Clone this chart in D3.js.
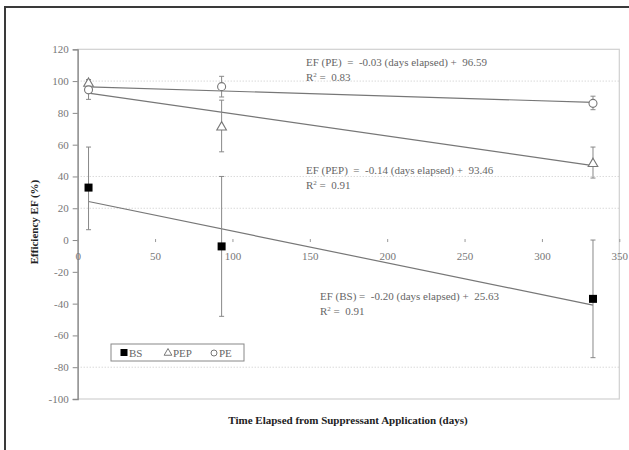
<!DOCTYPE html>
<html><head><meta charset="utf-8">
<script src="https://cdn.jsdelivr.net/npm/d3@7"></script>
<style>
body{margin:0;background:#fff;}
svg{display:block;}
svg text{font-family:"Liberation Serif","DejaVu Serif","Times New Roman",serif !important;}
</style></head>
<body>
<svg id="c" width="629" height="450"></svg>
<script>
// ---- data ----
const days = [7, 93, 333];
const seriesNames = ["BS", "PEP", "PE"];
const bsValues = [33, -4, -37];
const bsLow = [6.5, -48, -74];
const bsHigh = [58.5, 40, 0];
const pepValues = [98.5, 71, 48];
const pepLow = [96, 55.5, 39];
const pepHigh = [101, 88, 58.5];
const peValues = [94.5, 96.5, 86];
const peLow = [88.5, 90, 82];
const peHigh = [100, 103, 90.5];
const slopes = [-0.20, -0.14, -0.03];
const intercepts = [25.63, 93.46, 96.59];
const r2 = [0.91, 0.91, 0.83];
const xTicks = [0, 50, 100, 150, 200, 250, 300, 350];
const yTicks = [120, 100, 80, 60, 40, 20, 0, -20, -40, -60, -80, -100];
const gridValues = [100, 40, 20, -80];

const FONT = "'Liberation Serif','DejaVu Serif',serif";
const svg = d3.select("#c").attr("font-family", FONT);
const x = d3.scaleLinear().domain([0, 350]).range([77.7, 619.3]);
const y = d3.scaleLinear().domain([-100, 120]).range([399, 49.3]);

// outer frame
svg.append("path").attr("d", "M5,455 V7 H640").attr("fill", "none").attr("stroke", "#3a3a3a").attr("stroke-width", 2);

// plot area border
svg.append("rect").attr("x", x(0)).attr("y", y(120)).attr("width", x(350) - x(0)).attr("height", y(-100) - y(120))
  .attr("fill", "none").attr("stroke", "#d0d0d0").attr("stroke-width", 1.2);

// gridlines
svg.selectAll(".grid").data(gridValues).join("line")
  .attr("x1", x(0)).attr("x2", x(350)).attr("y1", d => y(d)).attr("y2", d => y(d))
  .attr("stroke", "#c8c8c8").attr("stroke-dasharray", "1,2").attr("stroke-width", 1);

// y axis
const yAxis = d3.axisLeft(y).tickValues(yTicks).tickSize(5).tickPadding(4).tickFormat(d => String(d));
const yg = svg.append("g").attr("transform", `translate(${x(0)},0)`).call(yAxis).attr("font-family", FONT);
yg.select(".domain").attr("stroke", "#8a8a8a").attr("stroke-width", 1.3);
yg.selectAll(".tick line").attr("stroke", "#8a8a8a");
yg.selectAll(".tick text").attr("fill", "#777").attr("font-size", 11);

// x axis (crosses at 0)
const xAxis = d3.axisBottom(x).tickValues(xTicks).tickSize(3).tickPadding(10).tickFormat(d => String(d));
const xg = svg.append("g").attr("transform", `translate(0,${y(0) - 1})`).call(xAxis).attr("font-family", FONT);
xg.select(".domain").remove();
xg.selectAll(".tick line").attr("stroke", "#999");
xg.selectAll(".tick text").attr("fill", "#777").attr("font-size", 11);

// trend lines
[0, 1, 2].forEach(i => {
  const x0 = days[0], x1 = days[days.length - 1];
  svg.append("line")
    .attr("x1", x(x0)).attr("y1", y(intercepts[i] + slopes[i] * x0))
    .attr("x2", x(x1)).attr("y2", y(intercepts[i] + slopes[i] * x1))
    .attr("stroke", "#777").attr("stroke-width", 1.2);
});

// error bars
const series = [
  {name: "BS", v: bsValues, lo: bsLow, hi: bsHigh},
  {name: "PEP", v: pepValues, lo: pepLow, hi: pepHigh},
  {name: "PE", v: peValues, lo: peLow, hi: peHigh}
];
series.forEach(s => {
  const g = svg.append("g");
  days.forEach((d, i) => {
    g.append("line").attr("x1", x(d)).attr("x2", x(d)).attr("y1", y(s.lo[i])).attr("y2", y(s.hi[i]))
      .attr("stroke", "#888").attr("stroke-width", 1);
    [s.lo[i], s.hi[i]].forEach(e => {
      g.append("line").attr("x1", x(d) - 2.5).attr("x2", x(d) + 2.5).attr("y1", y(e)).attr("y2", y(e))
        .attr("stroke", "#888").attr("stroke-width", 1);
    });
  });
});

// markers
const tri = d3.symbol().type(d3.symbolTriangle).size(40);
function drawMarker(g, name, cx, cy) {
  if (name === "BS") {
    g.append("rect").attr("x", cx - 4).attr("y", cy - 4).attr("width", 8).attr("height", 8).attr("fill", "#000");
  } else if (name === "PEP") {
    g.append("path").attr("d", tri()).attr("transform", `translate(${cx},${cy})`)
      .attr("fill", "#fff").attr("stroke", "#777").attr("stroke-width", 1.1);
  } else {
    g.append("circle").attr("cx", cx).attr("cy", cy).attr("r", 4)
      .attr("fill", "#fff").attr("stroke", "#777").attr("stroke-width", 1.1);
  }
}
series.forEach(s => {
  const g = svg.append("g");
  days.forEach((d, i) => drawMarker(g, s.name, x(d), y(s.v[i])));
});

// equation annotations
function fmt(v) { return v.toFixed(2); }
const annPos = [[320, 300], [306, 174], [306, 66]];
const labelsEq = ["EF (BS) =  ", "EF (PEP)  =  ", "EF (PE)  =  "];
[0, 1, 2].forEach(i => {
  const [ax, ay] = annPos[i];
  svg.append("text").attr("x", ax).attr("y", ay).attr("fill", "#666").attr("font-size", 11)
    .style("white-space", "pre")
    .text(labelsEq[i] + fmt(slopes[i]) + " (days elapsed) +  " + fmt(intercepts[i]));
  const t = svg.append("text").attr("x", ax).attr("y", ay + 15).attr("fill", "#666").attr("font-size", 11)
    .style("white-space", "pre");
  t.append("tspan").text("R");
  t.append("tspan").attr("dy", -4).attr("font-size", 7).text("2");
  t.append("tspan").attr("dy", 4).text(" =  " + fmt(r2[i]));
});

// axis titles
svg.append("text").attr("transform", `translate(38,222) rotate(-90)`).attr("text-anchor", "middle")
  .attr("font-size", 11).attr("font-weight", "bold").attr("fill", "#222").text("Efficiency EF (%)");
svg.append("text").attr("x", 348).attr("y", 424).attr("text-anchor", "middle")
  .attr("font-size", 11).attr("font-weight", "bold").attr("fill", "#222")
  .text("Time Elapsed from Suppressant Application (days)");

// legend
const lg = svg.append("g");
lg.append("rect").attr("x", 111).attr("y", 344).attr("width", 133).attr("height", 17)
  .attr("fill", "#fff").attr("stroke", "#888").attr("stroke-width", 1);
const legX = [124, 168, 214];
seriesNames.forEach((n, i) => {
  if (n === "BS") {
    lg.append("rect").attr("x", legX[i] - 3.5).attr("y", 349).attr("width", 7).attr("height", 7).attr("fill", "#000");
  } else if (n === "PEP") {
    lg.append("path").attr("d", d3.symbol().type(d3.symbolTriangle).size(26)()).attr("transform", `translate(${legX[i]},353)`)
      .attr("fill", "#fff").attr("stroke", "#777");
  } else {
    lg.append("circle").attr("cx", legX[i]).attr("cy", 353).attr("r", 3).attr("fill", "#fff").attr("stroke", "#777");
  }
  lg.append("text").attr("x", legX[i] + 5).attr("y", 357).attr("font-size", 11).attr("fill", "#666").text(n);
});
</script>
</body></html>
